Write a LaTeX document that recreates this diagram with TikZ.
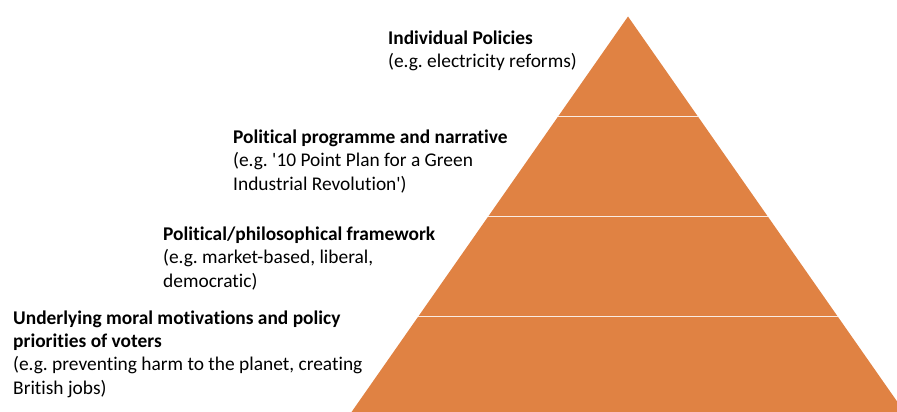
\documentclass[tikz,border=0pt]{standalone}
\usepackage{fontspec}
\setmainfont{Carlito}[Ligatures={NoCommon}]
\usepackage{tikz}
\usetikzlibrary{calc}
\frenchspacing

\definecolor{tierorange}{RGB}{224,130,67}

\tikzset{
	tierlabel/.style={anchor=base west,inner sep=0pt,align=left,
		font=\fontsize{19.4}{23.2}\selectfont},
	tierline/.style={draw=white!85!tierorange,line width=1.3pt}
}

\begin{document}
\begin{tikzpicture}[x=1pt,y=-1pt]
				\useasboundingbox (0,0) rectangle (897,412);
				\clip (0,0) rectangle (897,412);
				\coordinate (apex) at (628,16.5);
				\coordinate (baseL) at (348.4,416.5);
				\coordinate (baseR) at (907.6,416.5);
				\fill[tierorange] (apex) -- (baseL) -- (baseR) -- cycle;

				% tier separators
				\foreach \t/\n in {0.25/1,0.5/2,0.75/3} {
					\coordinate (sep\n L) at ($(apex)!\t!(baseL)$);
					\coordinate (sep\n R) at ($(apex)!\t!(baseR)$);
					\draw[tierline] (sep\n L) -- (sep\n R);
				}

				% labels, placed at the baseline of their last line
				\node[tierlabel] (policies) at (388,68) {\textbf{Individual Policies}\\(e.g. electricity reforms)};
				\node[tierlabel] (programme) at (233,190) {\textbf{Political programme and narrative}\\(e.g. \textquotesingle 10 Point Plan for a Green\\Industrial Revolution\textquotesingle)};
				\node[tierlabel] (framework) at (163,287) {\textbf{Political/philosophical framework}\\(e.g. market-based, liberal,\\democratic)};
				\node[tierlabel] (motives) at (13,394) {\textbf{Underlying moral motivations and policy}\\\textbf{priorities of voters}\\(e.g. preventing harm to the planet, creating\\British jobs)};
			\end{tikzpicture}
\end{document}
